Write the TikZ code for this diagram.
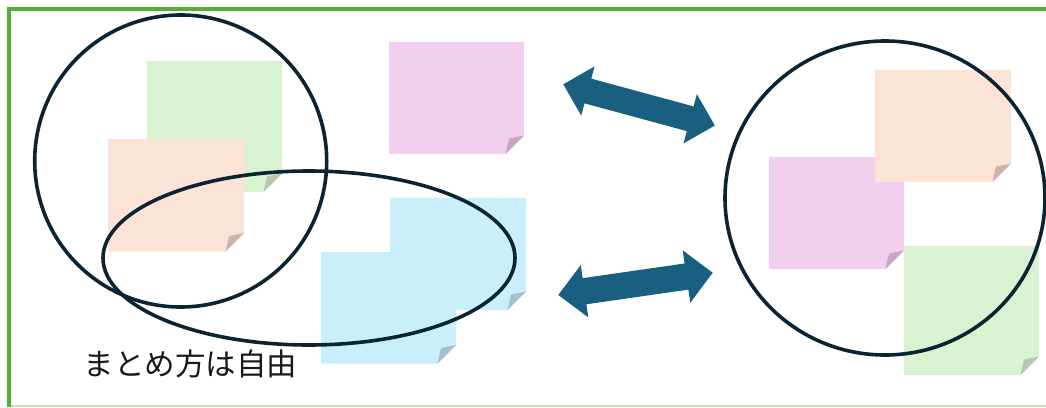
\documentclass[tikz,border=0pt]{standalone}
\usepackage{fontspec}
\newfontfamily\jpfont{Noto Sans CJK JP}
\definecolor{frame}{HTML}{55AD32}
\definecolor{framelight}{HTML}{C5E0B4}
\definecolor{ring}{HTML}{0A2433}
\definecolor{arrowc}{HTML}{195F80}
\definecolor{ngreen}{HTML}{D9F2D0}
\definecolor{ngreenf}{HTML}{B5C8AE}
\definecolor{npeach}{HTML}{FBE3D6}
\definecolor{npeachf}{HTML}{CDB3A8}
\definecolor{npink}{HTML}{F2CFEE}
\definecolor{npinkf}{HTML}{C9A5C6}
\definecolor{nblue}{HTML}{CAEEFB}
\definecolor{nbluef}{HTML}{A8BFC9}
\newcommand\stickynote[6]{%
  \fill[#5] (#1,#2) -- (#3,#2) -- (#3,#4-18.5) -- (#3-18.5,#4) -- (#1,#4) -- cycle;
  \fill[#6] (#3,#4-18.5) -- (#3-15,#4-15.5) -- (#3-18.5,#4) -- cycle;
}
\tikzset{
  ringline/.style={draw=ring, line width=3.6pt},
  dblarrow/.style={fill=arrowc},
  framefill/.style={draw=frame, line width=4pt}
}
\begin{document}
\begin{tikzpicture}[x=1pt,y=-1pt]
\useasboundingbox (0,0) rectangle (1046,407);
% frame
\draw[framelight, line width=1.5pt] (10,406) -- (1046,406);
\draw[framefill] (1046,9.3) -- (9.3,9.3) -- (9.3,407);
% left cluster notes
\stickynote{147}{61}{282}{192}{ngreen}{ngreenf}
\stickynote{108}{139}{244}{251.5}{npeach}{npeachf}
\stickynote{389}{42}{524}{154}{npink}{npinkf}
\stickynote{390}{198}{526}{310}{nblue}{nbluef}
\stickynote{321}{252}{456}{363.5}{nblue}{nbluef}
% right cluster notes
\stickynote{769}{157}{904}{269}{npink}{npinkf}
\stickynote{875}{70}{1011}{182}{npeach}{npeachf}
\stickynote{904}{246}{1039}{375}{ngreen}{ngreenf}
% rings
\draw[ringline] (180.7,161) ellipse [x radius=146, y radius=146];
\draw[ringline] (309,258) ellipse [x radius=206, y radius=87];
\draw[ringline] (885,198) ellipse [x radius=160, y radius=157];
% arrows
\begin{scope}[shift={(563.3,84.3)}, rotate=-15.2]
  \fill[dblarrow] (0,0) -- (25.5,-25.5) -- (25.5,-12.8) -- (131.5,-12.8) -- (131.5,-25.5) -- (157,0)
    -- (131.5,25.5) -- (131.5,12.8) -- (25.5,12.8) -- (25.5,25.5) -- cycle;
\end{scope}
\begin{scope}[shift={(558.3,295)}, rotate=8.2]
  \fill[dblarrow] (0,0) -- (26.5,-26.5) -- (26.5,-13.2) -- (129.5,-13.2) -- (129.5,-26.5) -- (156,0)
    -- (129.5,26.5) -- (129.5,13.2) -- (26.5,13.2) -- (26.5,26.5) -- cycle;
\end{scope}
% label
\node[font=\jpfont\fontsize{30.5}{36}\selectfont, text=black!90, inner sep=0pt] (lbl) at (190.3,364) {まとめ方は自由};
\end{tikzpicture}
\end{document}
